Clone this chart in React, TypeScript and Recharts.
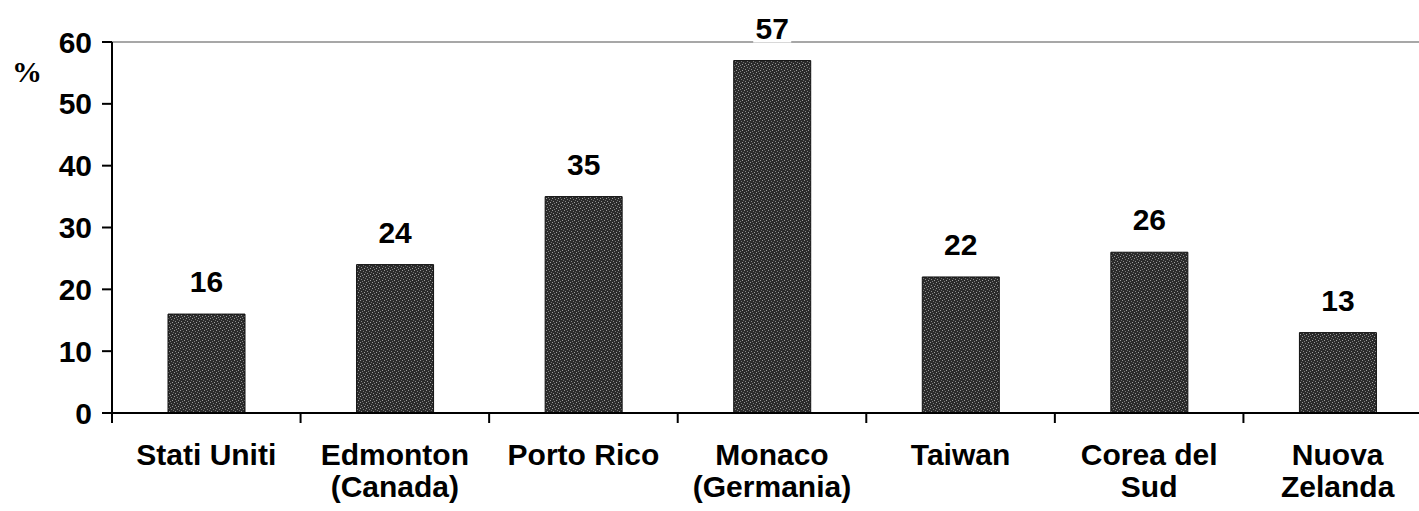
import React from 'react';
import {
  BarChart,
  Bar,
  XAxis,
  YAxis,
  ReferenceLine,
  LabelList,
} from 'recharts';

// Share (%) by study site
const categories = [
  'Stati Uniti',
  'Edmonton\n(Canada)',
  'Porto Rico',
  'Monaco\n(Germania)',
  'Taiwan',
  'Corea del\nSud',
  'Nuova\nZelanda',
];
const values = [16, 24, 35, 57, 22, 26, 13];
const yTicks = [0, 10, 20, 30, 40, 50, 60];
// boundaries between categories on a 0..7 scale
const boundaryTicks = [0, 1, 2, 3, 4, 5, 6];

const data = categories.map((name, i) => ({ name, value: values[i], pos: i + 0.5 }));

const FONT = '"Liberation Sans", Arial, Helvetica, sans-serif';
const FS = 30;

const CategoryTick = (props: any) => {
  const { x, y, payload } = props;
  const lines = String(payload.value).split('\n');
  return (
    <text
      x={x}
      y={y}
      textAnchor="middle"
      fontFamily={FONT}
      fontWeight="bold"
      fontSize={FS}
      fill="#000"
    >
      {lines.map((line, i) => (
        <tspan key={i} x={x} dy={i === 0 ? 52 : 32}>
          {line}
        </tspan>
      ))}
    </text>
  );
};

const EmptyTick = () => <g />;

const ValueLabel = (props: any) => {
  const { x, y, width, value } = props;
  const cx = x + width / 2;
  const baseline = y - 22;
  const w = String(value).length * 17 + 4;
  return (
    <g>
      <rect x={cx - w / 2} y={baseline - 24} width={w} height={28} fill="#fff" />
      <text
        x={cx}
        y={baseline}
        textAnchor="middle"
        fontFamily={FONT}
        fontWeight="bold"
        fontSize={FS}
        fill="#000"
      >
        {value}
      </text>
    </g>
  );
};

const PercentLabel = (props: any) => {
  const { viewBox } = props;
  return (
    <text
      x={viewBox.x + 27}
      y={viewBox.y + 40}
      textAnchor="middle"
      fontFamily='"Liberation Serif", "Times New Roman", serif'
      fontWeight="bold"
      fontSize={30}
      fill="#000"
    >
      %
    </text>
  );
};

export default function App() {
  return (
    <div
      style={{
        position: 'absolute',
        left: 0,
        top: 0,
        width: 1419,
        height: 511,
        overflow: 'hidden',
        background: '#fff',
      }}
    >
      <BarChart
        width={1432}
        height={511}
        data={data}
        margin={{ top: 42, right: 0, bottom: 96, left: 0 }}
      >
        <defs>
          <pattern id="stipple" width="6" height="6" patternUnits="userSpaceOnUse">
            <rect width="6" height="6" fill="#2b2b2b" />
            <rect x="0" y="0" width="1" height="1" fill="#9a9a9a" />
            <rect x="3" y="1" width="1" height="1" fill="#7a7a7a" />
            <rect x="1" y="3" width="1" height="1" fill="#8c8c8c" />
            <rect x="4" y="4" width="1" height="1" fill="#a0a0a0" />
            <rect x="5" y="2" width="1" height="1" fill="#6e6e6e" />
            <rect x="2" y="5" width="1" height="1" fill="#7f7f7f" />
          </pattern>
        </defs>
        <XAxis
          dataKey="name"
          height={1}
          axisLine={{ stroke: '#000', strokeWidth: 2 }}
          tickLine={false}
          tickSize={0}
          tickMargin={0}
          interval={0}
          tick={<CategoryTick />}
        />
        <XAxis
          xAxisId="bounds"
          dataKey="pos"
          type="number"
          domain={[0, 7]}
          ticks={boundaryTicks}
          height={1}
          axisLine={false}
          tickLine={{ stroke: '#000', strokeWidth: 2 }}
          tickSize={9}
          tick={EmptyTick}
          allowDataOverflow
        />
        <YAxis
          width={112}
          domain={[0, 60]}
          ticks={yTicks}
          interval={0}
          axisLine={{ stroke: '#000', strokeWidth: 2 }}
          tickLine={{ stroke: '#000', strokeWidth: 2 }}
          tickSize={10}
          tickMargin={10}
          tick={{ fontFamily: FONT, fontWeight: 'bold', fontSize: FS, fill: '#000' }}
          label={<PercentLabel />}
        />
        <ReferenceLine y={60} stroke="#8a8a8a" strokeWidth={1.5} />
        <Bar
          dataKey="value"
          barSize={77}
          fill="url(#stipple)"
          stroke="#111"
          strokeWidth={1}
          isAnimationActive={false}
        >
          <LabelList dataKey="value" content={<ValueLabel />} />
        </Bar>
      </BarChart>
    </div>
  );
}
